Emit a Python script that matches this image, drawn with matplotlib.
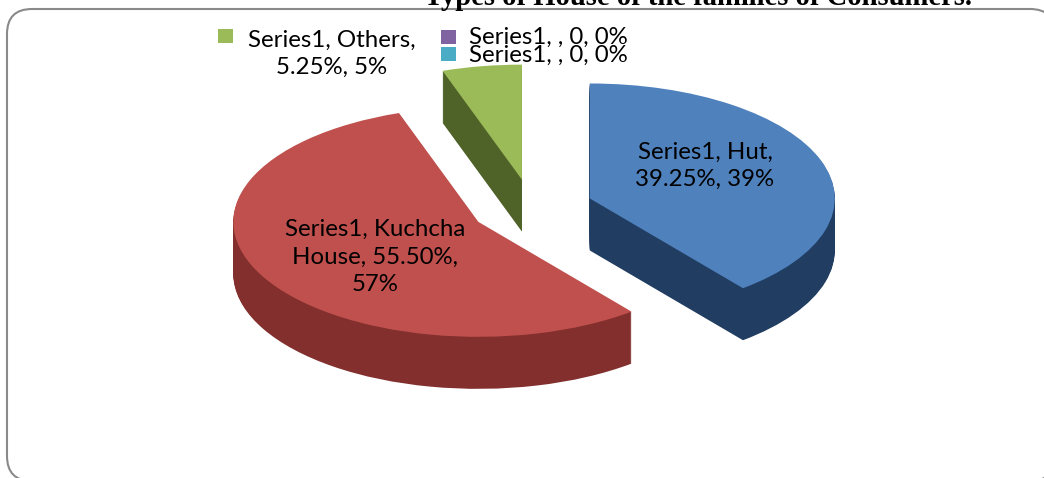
import matplotlib.pyplot as plt
from matplotlib.patches import FancyBboxPatch, Rectangle

# values
categories = ["Hut", "Kuchcha House", "Others", "", ""]
shares = [39.25, 55.50, 5.25, 0, 0]
share_text = ["39.25%", "55.50%", "5.25%", "0", "0"]
rounded_pct = ["39%", "57%", "5%", "0%", "0%"]
top_colors = ["#4f81bd", "#c0504d", "#9bbb59", "#8064a2", "#4bacc6"]
side_colors = ["#213d62", "#822f2d", "#4f6228", "#4b3a60", "#2b6a7b"]
title = "Types of House of the families of Consumers."

W, H = 1044, 478
fig = plt.figure(figsize=(W / 100, H / 100), dpi=100)


def px(x, y):
    # pixel position (y down) -> figure fraction
    return x / W, 1 - y / H


# background axes in pixel units for the frame and legend keys
bg = fig.add_axes([0, 0, 1, 1])
bg.set_xlim(0, W)
bg.set_ylim(H, 0)
bg.axis('off')
bg.add_patch(FancyBboxPatch((7, 9), 1048, 472, boxstyle="round,pad=0,rounding_size=25",
                            fc='white', ec='#8a8a8a', lw=1.5))

# pie axes, squashed so the pie looks tilted (1 unit = rx px across, ry px down)
cx, cy = 532, 208
rx, ry = 245, 115
depth = 52
pa = fig.add_axes([0, 0, 1, 1])
pa.patch.set_visible(False)

draw_order = [2, 0, 1, 3, 4]  # back to front
nlayers = depth + 1
for k in range(nlayers):
    off = depth * (1 - k / (nlayers - 1))
    top = k == nlayers - 1
    wedges, _ = pa.pie(shares, startangle=90, counterclock=False, explode=[0.25] * len(shares),
                       center=(0, -off / ry), radius=1,
                       colors=top_colors if top else side_colors,
                       wedgeprops=dict(linewidth=0))
    for i, w in enumerate(wedges):
        w.set_zorder(draw_order.index(i) * 100 + k + 1)

pa.set_aspect('auto')
pa.set_xlim(-cx / rx, (W - cx) / rx)
pa.set_ylim((cy - H) / ry, cy / ry)
pa.axis('off')

lab = dict(family='Lato', fontsize=17.3, color='black', linespacing=1.37)

fig.text(*px(705, 166), f"Series1, {categories[0]},\n{share_text[0]}, {rounded_pct[0]}",
         ha='center', va='center', **lab)
first, second = categories[1].split()
fig.text(*px(375, 257), f"Series1, {first}\n{second}, {share_text[1]},\n{rounded_pct[1]}",
         ha='center', va='center', **lab)
fig.text(*px(332, 54), f"Series1, {categories[2]},\n{share_text[2]}, {rounded_pct[2]}",
         ha='center', va='center', **lab)
bg.add_patch(Rectangle((218, 29), 15, 14, fc=top_colors[2], ec='none'))

for i, yc in zip([3, 4], [37.5, 55]):
    bg.add_patch(Rectangle((441, yc - 8), 15, 14, fc=top_colors[i], ec='none'))
    fig.text(*px(469, yc), f"Series1, {categories[i]}, {share_text[i]}, {rounded_pct[i]}",
             ha='left', va='center', **lab)

fig.text(*px(698, 5), title, ha='center', va='baseline', family='Liberation Serif',
         weight='bold', fontsize=20.6, color='black')

fig.savefig("out.png", dpi=100)
